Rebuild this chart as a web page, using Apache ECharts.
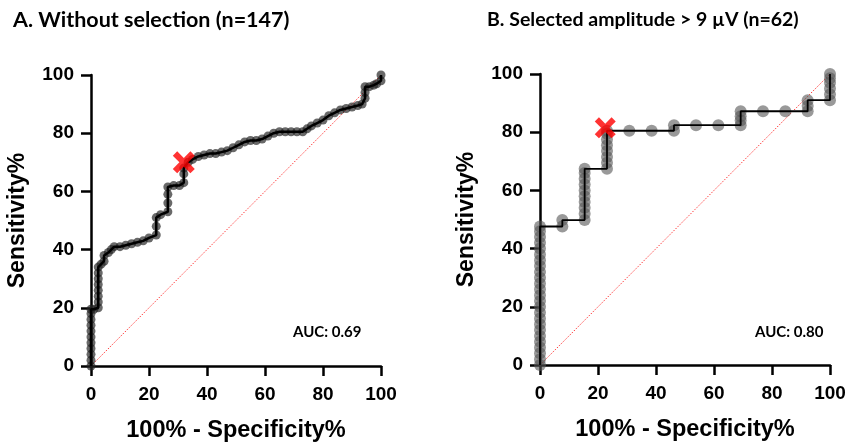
<!DOCTYPE html>
<html><head><meta charset="utf-8">
<script src="https://cdn.jsdelivr.net/npm/echarts@6/dist/echarts.min.js"></script>
<style>html,body{margin:0;padding:0;background:#fff}#c{width:850px;height:442px}</style>
</head><body><div id="c"></div>
<script>
// Panel A: Without selection (n=147)
const aFpr = [0,0,0,0,0,0,0,0,0,0,0,1,2.5,2.5,2.5,2.5,2.5,2.5,2.5,2.5,3.5,4.5,4.5,6,7,8,10,12,14,16,18,20,22.5,22.5,22.5,24,26.5,26.5,26.5,26.5,28.5,30.5,32,32,32,33.5,35,37,39,41,43,45,47,49,51,53,55,57,59,61,63,65,67,69,71,73,74.5,76,78,80,82,84,86,88,90,92,93.5,94.5,94.5,94.5,96,97.5,98.5,100,100];
const aTpr = [0,2,4,6,8,10,12,14,16,18,19.5,19.5,20,22,24,26,28,30,32,34,35,36,38,39,40,41,41,41.5,42,42.5,43,44,45,48,51,52,53,56,59,61.5,62,62,63,66,68,70,71,72,72.5,73,73,73.5,74,75,76,77,77.5,77.5,78,79,80,80.5,80.5,80.5,80.5,80.5,81.5,82.5,83.5,84.5,86,87,88,88.5,89,89.5,90,92,94,96,96,96.5,97,98,100];
const aCut = [32, 70];
const aAuc = 'AUC: 0.69';
// Panel B: Selected amplitude > 9 µV (n=62)
const bFpr = [0,0,0,0,0,0,0,0,0,0,0,0,0,0,0,0,0,0,0,0,0,0,0,0,0,7.7,7.7,15.4,15.4,15.4,15.4,15.4,15.4,15.4,15.4,15.4,15.4,23.1,23.1,23.1,23.1,23.1,23.1,23.1,23.1,30.8,38.5,46.2,46.2,53.8,61.5,69.2,69.2,69.2,69.2,76.9,84.6,92.3,92.3,92.3,100,100,100,100,100,100];
const bTpr = [0,2,4,6,8,10,12,14,16,18,20,22,24,26,28,30,32,34,36,38,40,42,44,46,47.6,47.6,49.8,49.8,52,54,56,58,60,62,64,66,67.4,67.4,69.5,71.5,73.5,75.5,77.5,79.5,80.5,80.5,80.5,80.5,82.4,82.4,82.4,82.4,84,85.5,87.2,87.2,87.2,87.2,89,91,91,93,95,97,98.5,100];
const bCut = [22.5, 81.5];
const bAuc = 'AUC: 0.80';
const titleA = 'A. Without selection (n=147)';
const titleB = 'B. Selected amplitude > 9 µV (n=62)';
const xName = '100% - Specificity%';
const yName = 'Sensitivity%';

const pairs = (xs, ys) => xs.map((x, i) => [x, ys[i]]);
const crossPath = 'path://M0,4 L4,0 L10,6 L16,0 L20,4 L14,10 L20,16 L16,20 L10,14 L4,20 L0,16 L6,10 Z';
const chart = echarts.init(document.getElementById('c'), null, {renderer: 'canvas'});

function xAxis(g) {
  return {gridIndex: g, type: 'value', min: 0, max: 100, interval: 20,
    name: xName, nameLocation: 'middle', nameGap: 53,
    nameTextStyle: {fontFamily: 'Liberation Sans', fontWeight: 'bold', fontSize: 23.5, color: '#000'},
    axisLine: {show: true, onZero: false, lineStyle: {color: '#000', width: 2.5}},
    axisTick: {show: true, length: 10, lineStyle: {color: '#000', width: 2.5}},
    axisLabel: {fontFamily: 'Liberation Sans', fontWeight: 'bold', fontSize: 19, color: '#000', margin: 19},
    splitLine: {show: false}};
}
function yAxis(g) {
  return {gridIndex: g, type: 'value', min: 0, max: 100, interval: 20,
    name: yName, nameLocation: 'middle', nameGap: 62, nameRotate: 90,
    nameTextStyle: {fontFamily: 'Liberation Sans', fontWeight: 'bold', fontSize: 23, color: '#000'},
    axisLine: {show: true, onZero: false, lineStyle: {color: '#000', width: 2.5}},
    axisTick: {show: true, length: 10, lineStyle: {color: '#000', width: 2.5}},
    axisLabel: {fontFamily: 'Liberation Sans', fontWeight: 'bold', fontSize: 19, color: '#000', margin: 17},
    splitLine: {show: false}};
}
function panelSeries(i, xs, ys, cut, dotSize, dotColor, lineW, crossSize) {
  return [
    {type: 'line', xAxisIndex: i, yAxisIndex: i, data: [[0, 0], [100, 100]], symbol: 'none', silent: true,
      lineStyle: {color: '#ff3b3b', width: 1, type: [1.5, 1.5]}, z: 1},
    {type: 'scatter', xAxisIndex: i, yAxisIndex: i, data: pairs(xs, ys), symbol: 'circle', symbolSize: dotSize,
      itemStyle: {color: dotColor}, z: 2},
    {type: 'line', xAxisIndex: i, yAxisIndex: i, data: pairs(xs, ys), symbol: 'none',
      lineStyle: {color: '#000', width: lineW}, z: 3},
    {type: 'scatter', xAxisIndex: i, yAxisIndex: i, data: [cut], symbol: crossPath, symbolSize: crossSize,
      itemStyle: {color: '#ff0000'}, z: 4}
  ];
}
chart.setOption({
  animation: false,
  backgroundColor: '#fff',
  title: [
    {text: titleA, left: 8, top: 4, textStyle: {fontFamily: 'Lato', fontWeight: 'bold', fontSize: 21.5, color: '#000'}},
    {text: titleB, left: 482, top: 5, textStyle: {fontFamily: 'Lato', fontWeight: 'bold', fontSize: 19.5, color: '#000'}}
  ],
  grid: [
    {left: 91, right: 469, top: 75, bottom: 76, containLabel: false, outerBoundsMode: 'none'},
    {left: 540, right: 20, top: 74, bottom: 77, containLabel: false, outerBoundsMode: 'none'}
  ],
  xAxis: [xAxis(0), xAxis(1)],
  yAxis: [yAxis(0), yAxis(1)],
  graphic: [
    {type: 'text', left: 293, top: 325, style: {text: aAuc, font: 'bold 15px Lato', fill: '#000'}},
    {type: 'text', left: 755, top: 325, style: {text: bAuc, font: 'bold 15px Lato', fill: '#000'}}
  ],
  series: [].concat(
    panelSeries(0, aFpr, aTpr, aCut, 9, 'rgba(35,35,35,0.85)', 2.5, 22),
    panelSeries(1, bFpr, bTpr, bCut, 12, 'rgba(85,85,85,0.75)', 1.8, 21))
});
</script></body></html>
